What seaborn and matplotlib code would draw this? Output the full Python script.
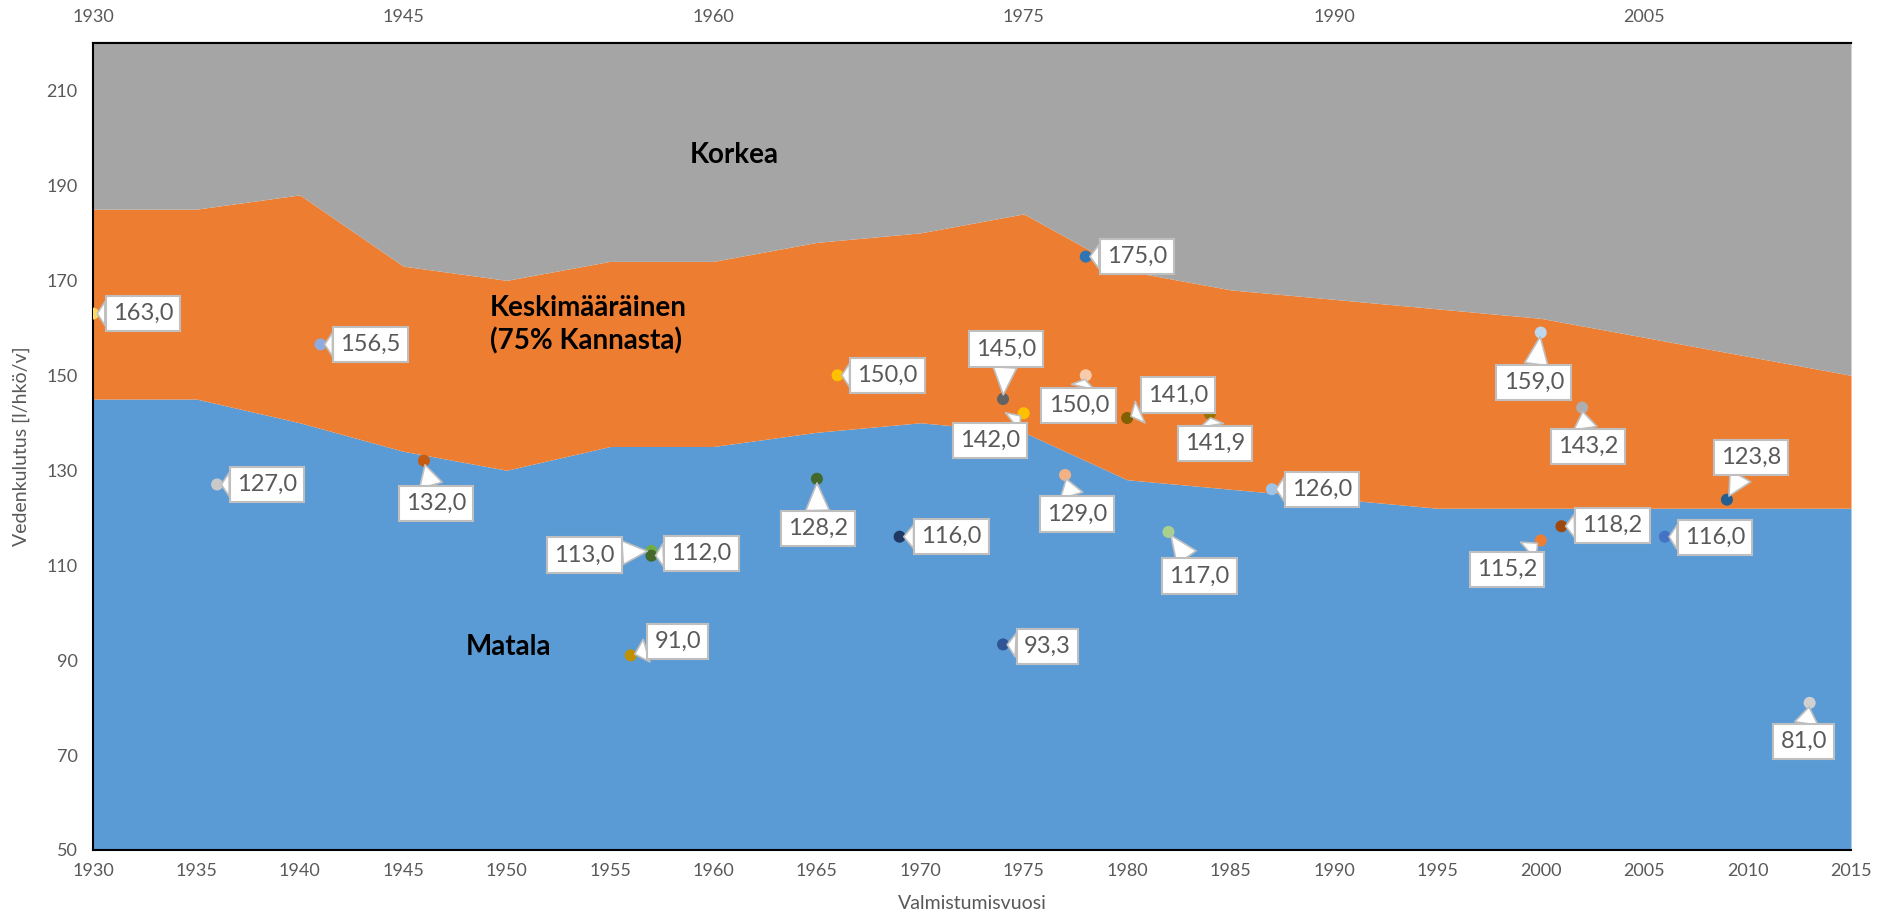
import numpy as np
import pandas as pd
import matplotlib
matplotlib.use('Agg')
import matplotlib.pyplot as plt
import seaborn as sns
from matplotlib.ticker import MultipleLocator, FixedLocator

# Band boundaries (l/hkö/v) by completion year
years = [1930, 1935, 1940, 1945, 1950, 1955, 1960, 1965, 1970, 1975,
         1980, 1985, 1990, 1995, 2000, 2005, 2010, 2015]
matala = [145, 145, 140, 134, 130, 135, 135, 138, 140, 138,
          128, 126, 124, 122, 122, 122, 122, 122]
keskimaarainen = [185, 185, 188, 173, 170, 174, 174, 178, 180, 184,
                  172, 168, 166, 164, 162, 158, 154, 150]
y_bottom = 50
y_top = 220

# Measured buildings
point_years = [1930, 1936, 1941, 1946, 1957, 1957, 1956, 1966, 1965, 1969,
               1974, 1975, 1974, 1978, 1978, 1977, 1984, 1980, 1982, 1987,
               2000, 2002, 2000, 2001, 2006, 2009, 2013]
point_values = [163.0, 127.0, 156.5, 132.0, 113.0, 112.0, 91.0, 150.0, 128.2, 116.0,
                145.0, 142.0, 93.3, 175.0, 150.0, 129.0, 141.9, 141.0, 117.0, 126.0,
                159.0, 143.2, 115.2, 118.2, 116.0, 123.8, 81.0]
point_colors = ['#FFD966', '#C9C9C9', '#8FAADC', '#C55A11', '#70AD47', '#43682B', '#BF9000',
                '#FFC000', '#43682B', '#203864', '#636363', '#FFC000', '#2F5597', '#2E75B6',
                '#F8CBAD', '#F4B183', '#997300', '#806000', '#A9D18E', '#9DC3E6', '#BDD7EE',
                '#AEAEAE', '#ED7D31', '#9E480E', '#4472C4', '#255E91', '#D0D0D0']
# label box offsets from the marker, in pixels (x right, y up)
label_offsets = [(50, 0), (50, 0), (50, 0), (12, -43), (-67, -4), (50, 2), (47, 14),
                 (50, 0), (1, -50), (52, 0), (3, 50), (-34, -27), (44, -2), (51, 0),
                 (-7, -30), (12, -39), (5, -30), (51, 23), (31, -44), (50, 0),
                 (-7, -50), (6, -39), (-34, -29), (51, 1), (50, -1), (24, 42), (-6, -39)]

GREY_TXT = '#595959'

sns.set_theme(style='white')
plt.rcParams['font.family'] = ['Lato', 'DejaVu Sans']

fig = plt.figure(figsize=(18.77, 9.23), dpi=100)
ax = fig.add_axes([93 / 1877, 1 - 850 / 923, (1851 - 93) / 1877, (850 - 43) / 923])

# stacked bands
ax.fill_between(years, y_bottom, matala, color='#5B9BD5', lw=0, zorder=1)
ax.fill_between(years, matala, keskimaarainen, color='#ED7D31', lw=0, zorder=1)
ax.fill_between(years, keskimaarainen, y_top, color='#A5A5A5', lw=0, zorder=1)

df = pd.DataFrame({'year': point_years, 'value': point_values,
                   'id': [f'p{i}' for i in range(len(point_years))]})
palette = dict(zip(df['id'], point_colors))
sns.scatterplot(data=df, x='year', y='value', hue='id', palette=palette,
                s=75, linewidth=0, legend=False, ax=ax, zorder=3)

for i, (x, v, (dx, dy)) in enumerate(zip(point_years, point_values, label_offsets)):
    ax.annotate(f'{v:.1f}'.replace('.', ','), xy=(x, v), xytext=(dx, dy),
                textcoords='offset pixels', ha='center', va='center',
                fontsize=17, color=GREY_TXT, zorder=5 + i,
                bbox=dict(boxstyle='square,pad=0.3', fc='white', ec='#BFBFBF', lw=1.5),
                arrowprops=dict(arrowstyle='wedge,tail_width=1.0,shrink_factor=0.5',
                                fc='white', ec='#BFBFBF', lw=1.2, shrinkA=0, shrinkB=3))

# band names
ax.text(1961, 196.4, 'Korkea', fontsize=20, fontweight='bold', color='black',
        ha='center', va='center', zorder=4)
ax.text(1949.2, 160.6, 'Keskimääräinen\n(75% Kannasta)', fontsize=20, fontweight='bold',
        color='black', ha='left', va='center', linespacing=1.3, zorder=4)
ax.text(1950.1, 92.8, 'Matala', fontsize=20, fontweight='bold', color='black',
        ha='center', va='center', zorder=4)

ax.set_xlim(1930, 2015)
ax.set_ylim(y_bottom, y_top)
ax.xaxis.set_major_locator(MultipleLocator(5))
ax.xaxis.set_minor_locator(MultipleLocator(2.5))
ax.set_yticks(np.arange(50, 211, 20))
ax.yaxis.set_minor_locator(MultipleLocator(5))
ax.tick_params(axis='both', which='both', direction='in', color='black',
               labelcolor=GREY_TXT, labelsize=13, width=1.3)
ax.tick_params(axis='both', which='major', length=7)
ax.tick_params(axis='both', which='minor', length=4)
ax.tick_params(axis='x', pad=9)
ax.tick_params(axis='y', pad=11, right=False)

secax = ax.secondary_xaxis('top')
secax.set_xticks(np.arange(1930, 2006, 15))
secax.xaxis.set_minor_locator(FixedLocator(np.arange(1930, 2016, 3)))
secax.tick_params(axis='x', which='both', direction='in', color='black',
                  labelcolor=GREY_TXT, labelsize=13, width=1.3, pad=13)
secax.tick_params(axis='x', which='major', length=7)
secax.tick_params(axis='x', which='minor', length=4)
secax.spines['top'].set_color('black')
secax.spines['top'].set_linewidth(1.5)

for side in ['left', 'bottom', 'top']:
    ax.spines[side].set_color('black')
    ax.spines[side].set_linewidth(1.5)
ax.spines['right'].set_visible(False)

ax.set_xlabel('Valmistumisvuosi', fontsize=14, color=GREY_TXT, labelpad=12)
ax.set_ylabel('Vedenkulutus [l/hkö/v]', fontsize=14, color=GREY_TXT, labelpad=12)

fig.savefig('out.png', dpi=100)
